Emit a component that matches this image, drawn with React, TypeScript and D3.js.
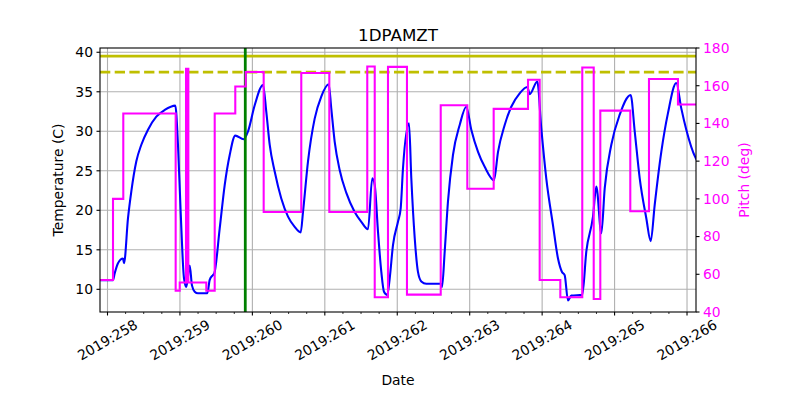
import React from "react";
import * as d3 from "d3";

const title = "1DPAMZT";
const xTickDays = [258, 259, 260, 261, 262, 263, 264, 265, 266];
const xTickLabels = xTickDays.map((d) => `2019:${d}`);
const tempTicks = [10, 15, 20, 25, 30, 35, 40];
const pitchTicks = [40, 60, 80, 100, 120, 140, 160, 180];
const tempLimitSolid = 39.5;
const tempLimitDashed = 37.5;
const markerDay = 259.902;

const tempDays = [
  257.897, 258.076, 258.099, 258.145, 258.214, 258.228, 258.283, 258.329, 258.398, 258.467,
  258.559, 258.674, 258.79, 258.936, 258.973, 259.01, 259.056, 259.088, 259.135, 259.166,
  259.204, 259.249, 259.378, 259.411, 259.456, 259.474, 259.549, 259.618, 259.687, 259.764,
  259.88, 259.94, 260.032, 260.147, 260.192, 260.239, 260.308, 260.399, 260.492, 260.584,
  260.667, 260.699, 260.768, 260.86, 260.951, 261.054, 261.089, 261.136, 261.205, 261.297,
  261.412, 261.504, 261.596, 261.655, 261.689, 261.734, 261.78, 261.817, 261.863, 261.896,
  261.941, 262.01, 262.047, 262.079, 262.162, 262.194, 262.241, 262.286, 262.332, 262.401,
  262.6, 262.618, 262.655, 262.7, 262.769, 262.862, 262.953, 263.022, 263.115, 263.207,
  263.335, 263.391, 263.483, 263.574, 263.69, 263.795, 263.828, 263.933, 263.988, 264.057,
  264.15, 264.219, 264.274, 264.311, 264.357, 264.403, 264.554, 264.61, 264.702, 264.748,
  264.817, 264.864, 264.955, 265.071, 265.222, 265.278, 265.347, 265.438, 265.499, 265.554,
  265.645, 265.737, 265.852, 265.921, 265.99, 266.12, 266.138,
];
const tempVals = [
  11.14, 11.14, 12.0, 13.3, 13.9, 13.3, 19.0, 22.4, 26.2, 28.3,
  30.2, 31.85, 32.7, 33.25, 28.3, 19.8, 11.4, 10.3, 13.0, 10.5,
  9.7, 9.5, 9.5, 11.2, 11.8, 12.0, 17.7, 23.2, 27.0, 29.45,
  29.0, 30.0, 33.3, 35.86, 32.5, 28.3, 24.9, 21.5, 19.2, 17.9,
  17.2, 19.8, 26.2, 31.6, 34.4, 35.95, 32.9, 28.7, 25.1, 22.2,
  19.8, 18.55, 17.6, 24.05, 23.2, 17.3, 12.2, 9.7, 9.3, 11.4,
  15.6, 18.55, 20.2, 25.3, 31.0, 24.05, 16.5, 12.2, 11.0, 10.7,
  10.7, 10.3, 14.8, 21.1, 27.0, 30.8, 33.1, 30.2, 27.4, 25.5,
  23.8, 27.4, 30.8, 33.1, 34.8, 35.6, 34.7, 36.3, 30.4, 24.05,
  18.1, 13.9, 12.2, 11.8, 8.6, 9.2, 9.3, 14.8, 19.2, 23.0,
  17.1, 22.8, 28.3, 32.1, 34.6, 30.0, 24.05, 19.0, 16.1, 20.7,
  27.4, 32.3, 36.1, 32.9, 30.2, 26.6, 26.3,
];

const pitchDays = [
  257.897, 258.076, 258.218, 258.941, 258.997, 259.084, 259.094, 259.106, 259.116, 259.364,
  259.48, 259.764, 259.908, 260.156, 260.675, 261.062, 261.586, 261.689, 261.872, 262.134,
  262.6, 262.967, 263.331, 263.805, 263.966, 264.251, 264.554, 264.712, 264.803, 265.217,
  265.475, 265.875, 266.138,
];
const pitchVals = [
  57, 100, 145.3, 51.3, 55.6, 169, 55.6, 169, 55.6, 51.3,
  145.3, 159.6, 167.3, 93, 166.7, 93, 170.2, 47.8, 170, 49.2,
  149.6, 105.4, 147.7, 163.2, 57, 47.8, 169.7, 46.9, 146.8, 93.4,
  163.6, 150, 150,
];

export default function App() {
  const W = 800, H = 400;
  const L = 100, R = 696, T = 48, B = 312;
  const x = d3.scaleLinear().domain([257.8965, 266.124]).range([L, R]);
  const yT = d3.scaleLinear().domain([7.13, 40.54]).range([B, T]);
  const yP = d3.scaleLinear().domain([40, 180]).range([B, T]);
  const font = "DejaVu Sans, sans-serif";
  const fs = 13.9;

  const tempLine = d3
    .line<number>()
    .x((_, i) => x(tempDays[i]))
    .y((v) => yT(v))
    .curve(d3.curveMonotoneX)(tempVals) as string;
  const pitchLine = d3
    .line<number>()
    .x((_, i) => x(pitchDays[i]))
    .y((v) => yP(v))
    .curve(d3.curveStepAfter)(pitchVals) as string;

  const minorTicks = d3.range(258, 266, 0.25).filter((d) => Math.abs(d - Math.round(d)) > 0.01);

  return (
    <svg width={W} height={H} style={{ position: "absolute", left: 0, top: 0, background: "#fff" }} fontFamily={font}>
      <defs>
        <clipPath id="plot">
          <rect x={L} y={T} width={R - L} height={B - T} />
        </clipPath>
      </defs>
      <rect x={0} y={0} width={W} height={H} fill="#fff" />
      <g stroke="#b0b0b0" strokeWidth={1.1}>
        {xTickDays.map((d) => (
          <line key={"gx" + d} x1={x(d)} x2={x(d)} y1={T} y2={B} />
        ))}
        {tempTicks.map((t) => (
          <line key={"gy" + t} x1={L} x2={R} y1={yT(t)} y2={yT(t)} />
        ))}
      </g>
      <g clipPath="url(#plot)">
        <path d={tempLine} fill="none" stroke="#0000ff" strokeWidth={2.08} strokeLinejoin="round" />
        <line x1={L} x2={R} y1={yT(tempLimitSolid)} y2={yT(tempLimitSolid)} stroke="#bfbf00" strokeWidth={2.78} />
        <line x1={L} x2={R} y1={yT(tempLimitDashed)} y2={yT(tempLimitDashed)} stroke="#bfbf00" strokeWidth={2.78} strokeDasharray="10.3 4.4" />
        <line x1={x(markerDay)} x2={x(markerDay)} y1={T} y2={B} stroke="#008000" strokeWidth={2.78} />
        <path d={pitchLine} fill="none" stroke="#ff00ff" strokeWidth={2.08} strokeLinejoin="miter" />
      </g>
      <rect x={L} y={T} width={R - L} height={B - T} fill="none" stroke="#000" strokeWidth={1.1} />
      <g stroke="#000" strokeWidth={1.1}>
        {xTickDays.map((d) => (
          <line key={"xt" + d} x1={x(d)} x2={x(d)} y1={B} y2={B + 3.5} />
        ))}
        {minorTicks.map((d) => (
          <line key={"xm" + d} x1={x(d)} x2={x(d)} y1={B} y2={B + 2} strokeWidth={0.8} />
        ))}
        {tempTicks.map((t) => (
          <line key={"yt" + t} x1={L - 3.5} x2={L} y1={yT(t)} y2={yT(t)} />
        ))}
        {pitchTicks.map((t) => (
          <line key={"pt" + t} x1={R} x2={R + 3.5} y1={yP(t)} y2={yP(t)} />
        ))}
      </g>
      <g fontSize={fs} fill="#000">
        {xTickDays.map((d, i) => (
          <text key={"xl" + d} transform={`translate(${x(d)},${340}) rotate(-30)`} textAnchor="middle" dy="0.35em">
            {xTickLabels[i]}
          </text>
        ))}
        {tempTicks.map((t) => (
          <text key={"yl" + t} x={L - 7} y={yT(t)} textAnchor="end" dy="0.35em">
            {t}
          </text>
        ))}
        {pitchTicks.map((t) => (
          <text key={"pl" + t} x={R + 7} y={yP(t)} textAnchor="start" dy="0.35em" fill="#ff00ff">
            {t}
          </text>
        ))}
      </g>
      <text x={(L + R) / 2} y={41} textAnchor="middle" fontSize={16.7}>
        {title}
      </text>
      <text x={(L + R) / 2} y={385} textAnchor="middle" fontSize={fs}>
        Date
      </text>
      <text transform={`translate(63,${(T + B) / 2}) rotate(-90)`} textAnchor="middle" fontSize={fs}>
        Temperature (C)
      </text>
      <text transform={`translate(748.5,${(T + B) / 2}) rotate(-90)`} textAnchor="middle" fontSize={fs} fill="#ff00ff">
        Pitch (deg)
      </text>
    </svg>
  );
}
